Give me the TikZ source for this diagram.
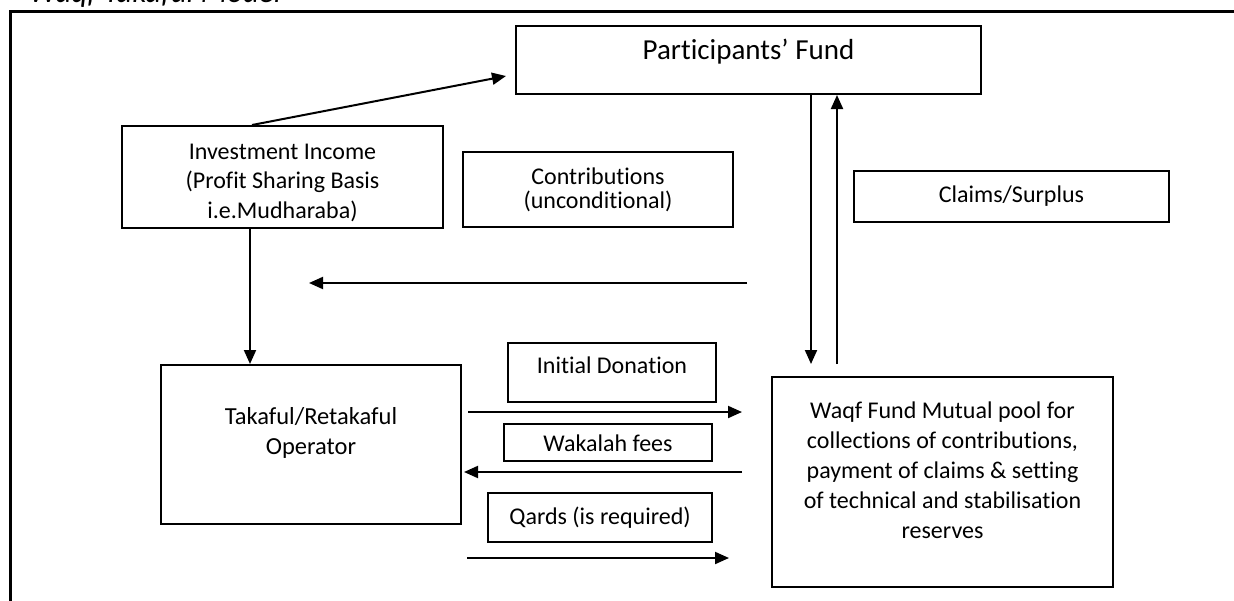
\documentclass[tikz,border=0pt]{standalone}
\usepackage{fontspec}
\setmainfont[Ligatures={NoCommon}]{Carlito}
\usetikzlibrary{arrows.meta}
\begin{document}
\begin{tikzpicture}[x=1pt,y=-1pt,
  box/.style={draw, line width=2pt, inner sep=0pt},
  lbl/.style={font=\fontsize{24}{30}\selectfont, align=center, inner sep=0pt},
  arr/.style={line width=2pt, -{Triangle[length=14pt,width=12pt]}}]
\useasboundingbox (0,0) rectangle (1234,600);
\clip (0,0) rectangle (1234,600);
\fill[white] (0,0) rectangle (1234,600);
% title (cut off by the top edge)
\node[font=\fontsize{31}{36}\selectfont\itshape, anchor=base west, inner sep=0pt] (title) at (29,2) {Waqf Takaful Model};
% outer frame
\draw[line width=3pt] (10.5,11.5) rectangle (1250,615);
% boxes
\node[box, minimum width=465, minimum height=68] (pf) at (748.5,60) {};
\node[lbl, font=\fontsize{29}{34}\selectfont] (pft) at (748.5,52) {Participants’ Fund};
\node[box, minimum width=321, minimum height=102] (inv) at (282.5,177) {};
\node[lbl, font=\fontsize{24}{29.5}\selectfont] (invt) at (282.5,182.5) {Investment Income\\(Profit Sharing Basis\\i.e.Mudharaba)};
\node[box, minimum width=270, minimum height=75] (con) at (598,189.5) {};
\node[lbl, font=\fontsize{24}{24}\selectfont] (cont) at (598,190) {Contributions\\(unconditional)};
\node[box, minimum width=315, minimum height=51] (cs) at (1011.5,196.5) {};
\node[lbl] (cst) at (1011.5,196.5) {Claims/Surplus};
\node[box, minimum width=300, minimum height=159] (tk) at (311,444.5) {};
\node[lbl, font=\fontsize{24.5}{30}\selectfont] (tkt) at (311,433) {Takaful/Retakaful\\Operator};
\node[box, minimum width=208, minimum height=59] (idn) at (612,372.5) {};
\node[lbl] (idnt) at (612,365) {Initial Donation};
\node[box, minimum width=208, minimum height=37] (wk) at (608,442.5) {};
\node[lbl] (wkt) at (608,443) {Wakalah fees};
\node[box, minimum width=224, minimum height=49] (qd) at (600,517.5) {};
\node[lbl] (qdt) at (600,517.5) {Qards (is required)};
\node[box, minimum width=341, minimum height=210] (wq) at (942.5,482) {};
\node[lbl] (wqt) at (942.5,470) {Waqf Fund Mutual pool for\\collections of contributions,\\payment of claims \& setting\\of technical and stabilisation\\reserves};
% free-end coordinates
\coordinate (h1) at (747,283);
\coordinate (h2) at (309,283);
% connectors
\draw[arr] ([xshift=-30.5]inv.north) -- ([xshift=-9,yshift=-16]pf.west);
\draw[arr] ([xshift=62.5]pf.south) -- ([xshift=-131.5,yshift=12]wq.north);
\draw[arr] ([xshift=-105.5,yshift=12]wq.north) -- ([xshift=88.5]pf.south);
\draw[arr] (h1) -- (h2);
\draw[arr] ([xshift=-32.5]inv.south) -- ([xshift=-61]tk.north);
\draw[arr] ([xshift=6,yshift=32.5]tk.east) -- ([xshift=-29,yshift=70]wq.west);
\draw[arr] ([xshift=-29,yshift=10]wq.west) -- ([xshift=2,yshift=-27.5]tk.east);
\draw[arr] ([xshift=5,yshift=-113.5]tk.east) -- ([xshift=-42,yshift=-76]wq.west);
\end{tikzpicture}
\end{document}
